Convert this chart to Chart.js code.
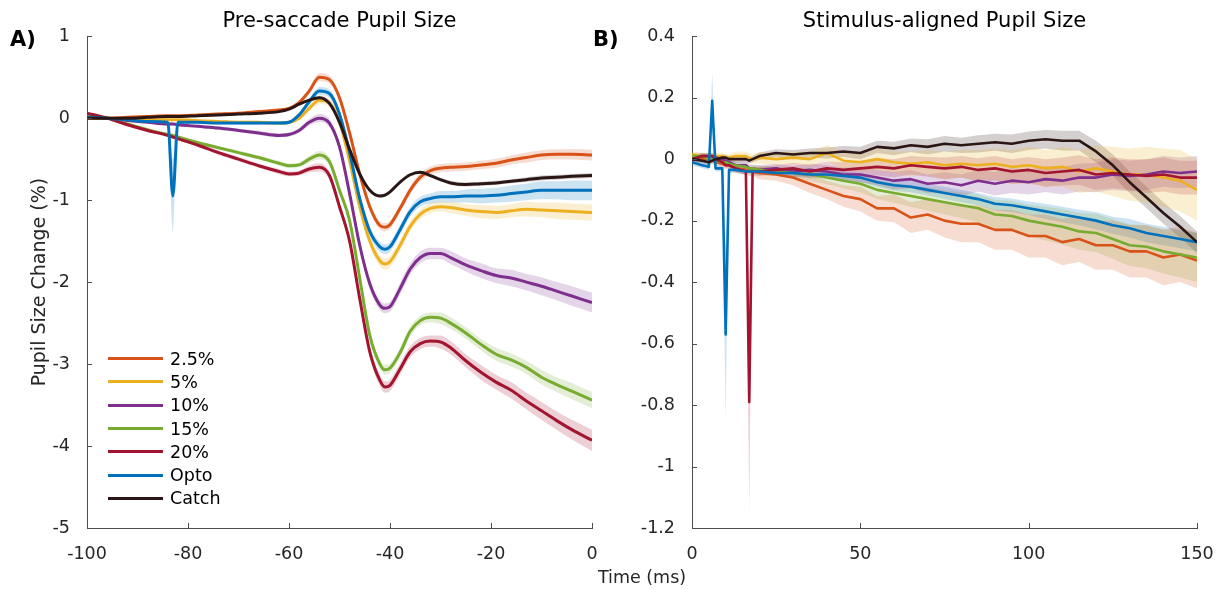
<!DOCTYPE html>
<html lang="en">
<head>
    <meta charset="UTF-8">
    <title>Pupil Size</title>
    <script src="https://cdn.jsdelivr.net/npm/chart.js"></script>
    <style>
        body {
            margin: 0;
            background: #fff;
            font-family: 'DejaVu Sans', sans-serif;
            color: #262626;
        }

        #page {
            position: relative;
            width: 1223px;
            height: 589px;
            overflow: hidden;
        }

        .panel {
            position: absolute;
            top: 0;
            height: 589px;
        }

        #panelA { left: 0; width: 612px; }
        #panelB { left: 612px; width: 611px; }

        .tag {
            position: absolute;
            top: 27px;
            font-weight: bold;
            font-size: 21px;
            line-height: 24px;
            color: #000;
        }

        #xlabel {
            position: absolute;
            left: 642px;
            top: 567px;
            transform: translateX(-50%);
            font-size: 17.5px;
            line-height: 21px;
        }

        #legendA {
            position: absolute;
            left: 108px;
            top: 347px;
            font-size: 17.5px;
            color: #000;
        }

        .row {
            display: flex;
            align-items: center;
            height: 23.3px;
        }

        .swatch {
            width: 55px;
            height: 3px;
            margin-right: 7px;
        }
    </style>
</head>
<body>

<div id="page">
    <div class="panel" id="panelA"><canvas id="chartA"></canvas></div>
    <div class="panel" id="panelB"><canvas id="chartB"></canvas></div>
    <div class="tag" style="left:10px">A)</div>
    <div class="tag" style="left:593px">B)</div>
    <div id="xlabel">Time (ms)</div>
    <div id="legendA"></div>
</div>

<script>
    const seriesNames = ['2.5%', '5%', '10%', '15%', '20%', 'Opto', 'Catch'];
    const seriesColors = ['#D95319', '#EDB120', '#7E2F8E', '#77AC30', '#A2142F', '#0072BD', '#2B1616'];

    // ---- A) pre-saccade, time relative to saccade (ms)
    const timeA = [-100, -96, -92, -88,
                   -84, -83, -82,
                   -78, -74, -70, -66, -62,
                   -60, -58, -56, -54, -52, -50, -48, -46, -44, -42,
                   -41, -40,
                   -38, -36, -34, -32, -30, -28,
                   -25, -22, -19, -16, -13, -10, -7, -4, 0];

    const pre25 = [0.0, 0.0, 0.01, 0.02,
                   0.03, 0.03, 0.03,
                   0.04, 0.05, 0.06, 0.08, 0.1,
                   0.12, 0.19, 0.33, 0.5, 0.47, 0.25, -0.18, -0.68, -1.08, -1.31,
                   -1.33, -1.3,
                   -1.1, -0.88, -0.72, -0.64, -0.61, -0.6,
                   -0.59, -0.57, -0.55, -0.51, -0.48, -0.45, -0.44, -0.44, -0.45];
    const pre5 = [0.0, 0.0, -0.01, -0.02,
                  -0.02, -0.02, -0.02,
                  -0.03, -0.04, -0.05, -0.05, -0.06,
                  -0.05, 0.0, 0.12, 0.22, 0.19, -0.05, -0.52, -1.08, -1.5, -1.74,
                  -1.78, -1.75,
                  -1.55, -1.32, -1.17, -1.1, -1.08, -1.09,
                  -1.12, -1.14, -1.15, -1.13, -1.11, -1.12, -1.13, -1.14, -1.15];
    const pre10 = [0.03, 0.0, -0.03, -0.05,
                   -0.07, -0.07, -0.08,
                   -0.1, -0.12, -0.15, -0.18, -0.21,
                   -0.2, -0.15, -0.05, 0.0, -0.06, -0.35, -0.92, -1.55, -2.02, -2.28,
                   -2.32, -2.3,
                   -2.08, -1.84, -1.7, -1.65, -1.65, -1.7,
                   -1.79, -1.86, -1.92, -1.95, -2.0, -2.05, -2.11, -2.17, -2.25];
    const pre15 = [0.04, 0.0, -0.07, -0.14,
                   -0.2, -0.21, -0.23,
                   -0.3, -0.36, -0.42, -0.48, -0.55,
                   -0.58, -0.57, -0.5, -0.45, -0.53, -0.88, -1.25, -1.95, -2.65, -3.0,
                   -3.07, -3.05,
                   -2.86, -2.6, -2.47, -2.43, -2.44, -2.5,
                   -2.62, -2.76, -2.88, -2.95, -3.04, -3.16, -3.25, -3.33, -3.44];
    const pre20 = [0.06, 0.0, -0.08, -0.15,
                   -0.21, -0.23, -0.25,
                   -0.33, -0.42, -0.5, -0.58, -0.65,
                   -0.68, -0.67, -0.62, -0.6, -0.7, -1.08, -1.5, -2.2, -2.85, -3.2,
                   -3.28, -3.26,
                   -3.06, -2.85, -2.75, -2.72, -2.73, -2.8,
                   -2.96, -3.1, -3.22, -3.32, -3.45, -3.57, -3.69, -3.8, -3.93];
    const preOpto = [0.01, 0.0, -0.02, -0.04,
                     -0.05, -0.95, -0.05,
                     -0.05, -0.06, -0.06, -0.06, -0.06,
                     -0.05, 0.04, 0.2, 0.33, 0.3, 0.05, -0.42, -0.98, -1.38, -1.57,
                     -1.6, -1.57,
                     -1.36, -1.14, -1.02, -0.98, -0.96, -0.96,
                     -0.95, -0.95, -0.94, -0.92, -0.9, -0.88, -0.88, -0.88, -0.88];
    const preCatch = [0.0, 0.0, 0.0, 0.01,
                      0.02, 0.02, 0.02,
                      0.03, 0.04, 0.05, 0.06, 0.08,
                      0.11, 0.17, 0.22, 0.25, 0.18, -0.05, -0.38, -0.68, -0.88, -0.95,
                      -0.94, -0.9,
                      -0.78, -0.69, -0.66, -0.7, -0.75, -0.79,
                      -0.81, -0.8, -0.79, -0.77, -0.75, -0.73, -0.72, -0.71, -0.7];

    const semPre25 = [0.01, 0.01, 0.01, 0.015,
                      0.015, 0.015, 0.015,
                      0.015, 0.02, 0.02, 0.02, 0.02,
                      0.02, 0.03, 0.04, 0.05, 0.05, 0.05, 0.05, 0.05, 0.05, 0.05,
                      0.05, 0.05,
                      0.05, 0.05, 0.05, 0.05, 0.05, 0.05,
                      0.05, 0.05, 0.055, 0.055, 0.06, 0.06, 0.06, 0.065, 0.065];
    const semPre5 = [0.01, 0.01, 0.01, 0.015,
                     0.015, 0.015, 0.015,
                     0.015, 0.02, 0.02, 0.02, 0.02,
                     0.02, 0.03, 0.04, 0.05, 0.05, 0.05, 0.05, 0.06, 0.06, 0.07,
                     0.07, 0.07,
                     0.07, 0.06, 0.06, 0.06, 0.06, 0.07,
                     0.07, 0.08, 0.08, 0.08, 0.09, 0.09, 0.1, 0.1, 0.1];
    const semPre10 = [0.01, 0.01, 0.015, 0.015,
                      0.02, 0.02, 0.02,
                      0.02, 0.02, 0.02, 0.025, 0.025,
                      0.025, 0.03, 0.04, 0.05, 0.05, 0.05, 0.05, 0.06, 0.06, 0.06,
                      0.06, 0.06,
                      0.07, 0.07, 0.07, 0.07, 0.07, 0.08,
                      0.08, 0.09, 0.09, 0.1, 0.1, 0.11, 0.11, 0.12, 0.12];
    const semPre15 = [0.01, 0.01, 0.015, 0.015,
                      0.02, 0.02, 0.02,
                      0.02, 0.02, 0.025, 0.025, 0.03,
                      0.03, 0.03, 0.04, 0.05, 0.05, 0.05, 0.05, 0.06, 0.06, 0.06,
                      0.06, 0.06,
                      0.06, 0.06, 0.06, 0.06, 0.07, 0.07,
                      0.07, 0.07, 0.08, 0.08, 0.08, 0.09, 0.09, 0.1, 0.1];
    const semPre20 = [0.01, 0.01, 0.015, 0.015,
                      0.02, 0.02, 0.02,
                      0.02, 0.025, 0.025, 0.025, 0.03,
                      0.03, 0.03, 0.04, 0.05, 0.05, 0.05, 0.06, 0.06, 0.07, 0.07,
                      0.07, 0.07,
                      0.07, 0.07, 0.07, 0.07, 0.08, 0.08,
                      0.08, 0.09, 0.09, 0.1, 0.1, 0.11, 0.11, 0.12, 0.13];
    const semPreOpto = [0.01, 0.01, 0.01, 0.015,
                        0.015, 0.45, 0.015,
                        0.015, 0.02, 0.02, 0.02, 0.02,
                        0.02, 0.03, 0.04, 0.05, 0.05, 0.05, 0.05, 0.05, 0.06, 0.06,
                        0.06, 0.06,
                        0.06, 0.06, 0.06, 0.06, 0.07, 0.07,
                        0.08, 0.09, 0.09, 0.1, 0.1, 0.11, 0.11, 0.12, 0.12];
    const semPreCatch = [0.005, 0.005, 0.005, 0.005,
                         0.008, 0.008, 0.008,
                         0.008, 0.01, 0.01, 0.01, 0.01,
                         0.01, 0.015, 0.015, 0.02, 0.02, 0.02, 0.02, 0.02, 0.02, 0.02,
                         0.02, 0.02,
                         0.02, 0.02, 0.02, 0.02, 0.02, 0.025,
                         0.025, 0.025, 0.025, 0.025, 0.03, 0.03, 0.03, 0.03, 0.03];

    // ---- B) stimulus-aligned, time from stimulus onset (ms)
    const timeB = [0, 3, 5, 6, 7, 9, 10, 11, 13, 16, 17, 18, 20,
                   25, 30, 35, 40, 45, 50, 55, 60, 65, 70, 75, 80, 85,
                   90, 95, 100, 105, 110, 115, 120, 125, 130, 135, 140, 145, 150];

    const stim25 = [0.01, 0.0, 0.0, -0.005, -0.01, -0.015, -0.02, -0.02, -0.03, -0.035, -0.04, -0.04, -0.045,
                    -0.05, -0.06, -0.08, -0.1, -0.12, -0.13, -0.16, -0.16, -0.19, -0.18, -0.2, -0.21, -0.21,
                    -0.23, -0.23, -0.25, -0.25, -0.27, -0.26, -0.28, -0.28, -0.3, -0.3, -0.32, -0.31, -0.33];
    const stim5 = [0.015, 0.01, 0.01, 0.01, 0.01, 0.01, 0.005, 0.005, 0.01, 0.01, 0.005, 0.0, 0.005,
                   0.0, 0.005, 0.0, 0.02, -0.005, -0.01, 0.0, -0.01, -0.015, -0.01, -0.02, -0.015, -0.02,
                   -0.015, -0.025, -0.02, -0.03, -0.025, -0.04, -0.03, -0.04, -0.05, -0.05, -0.06, -0.07, -0.1];
    const stim10 = [0.0, 0.01, 0.01, 0.01, 0.005, 0.0, -0.005, -0.01, -0.02, -0.02, -0.03, -0.03, -0.035,
                    -0.03, -0.04, -0.035, -0.04, -0.05, -0.05, -0.06, -0.07, -0.065, -0.08, -0.075, -0.085, -0.07,
                    -0.08, -0.07, -0.075, -0.065, -0.07, -0.06, -0.06, -0.05, -0.055, -0.05, -0.04, -0.045, -0.04];
    const stim15 = [0.01, 0.01, 0.0, 0.0, -0.005, -0.01, -0.01, -0.015, -0.02, -0.025, -0.03, -0.03, -0.035,
                    -0.04, -0.045, -0.05, -0.06, -0.07, -0.08, -0.1, -0.11, -0.12, -0.13, -0.14, -0.15, -0.16,
                    -0.18, -0.185, -0.2, -0.21, -0.22, -0.235, -0.24, -0.26, -0.28, -0.285, -0.3, -0.31, -0.32];
    const stim20 = [0.0, 0.01, 0.01, 0.01, 0.0, -0.01, -0.02, -0.02, -0.03, -0.04, -0.79, -0.04, -0.04,
                    -0.035, -0.03, -0.04, -0.03, -0.035, -0.03, -0.025, -0.03, -0.02, -0.025, -0.03, -0.025, -0.035,
                    -0.03, -0.04, -0.035, -0.045, -0.04, -0.035, -0.05, -0.045, -0.05, -0.055, -0.05, -0.06, -0.06];
    const stimOpto = [-0.01, -0.02, -0.025, 0.19, -0.03, -0.03, -0.57, -0.035, -0.035, -0.04, -0.04, -0.04, -0.04,
                      -0.045, -0.045, -0.05, -0.05, -0.055, -0.06, -0.075, -0.085, -0.09, -0.1, -0.11, -0.12, -0.13,
                      -0.145, -0.15, -0.16, -0.17, -0.18, -0.19, -0.2, -0.215, -0.225, -0.24, -0.25, -0.26, -0.27];
    const stimCatch = [0.0, -0.005, -0.01, -0.005, 0.0, 0.005, 0.005, 0.0, 0.0, 0.0, -0.005, 0.0, 0.01,
                       0.02, 0.015, 0.02, 0.02, 0.025, 0.02, 0.04, 0.035, 0.045, 0.04, 0.05, 0.045, 0.05,
                       0.055, 0.05, 0.06, 0.065, 0.06, 0.06, 0.025, -0.02, -0.075, -0.125, -0.175, -0.22, -0.27];

    const semStim25 = [0.01, 0.01, 0.01, 0.01, 0.01, 0.012, 0.012, 0.012, 0.015, 0.015, 0.015, 0.015, 0.02,
                       0.02, 0.025, 0.03, 0.03, 0.035, 0.04, 0.04, 0.045, 0.05, 0.05, 0.055, 0.06, 0.06,
                       0.065, 0.065, 0.07, 0.07, 0.075, 0.075, 0.08, 0.08, 0.085, 0.085, 0.09, 0.09, 0.09];
    const semStim5 = [0.01, 0.01, 0.01, 0.01, 0.01, 0.012, 0.012, 0.012, 0.015, 0.015, 0.015, 0.015, 0.02,
                      0.02, 0.02, 0.025, 0.025, 0.03, 0.03, 0.035, 0.035, 0.04, 0.04, 0.045, 0.045, 0.05,
                      0.05, 0.055, 0.06, 0.06, 0.065, 0.07, 0.075, 0.08, 0.085, 0.09, 0.095, 0.1, 0.1];
    const semStim10 = [0.01, 0.01, 0.01, 0.01, 0.01, 0.01, 0.01, 0.01, 0.012, 0.012, 0.012, 0.012, 0.015,
                       0.015, 0.018, 0.02, 0.02, 0.022, 0.025, 0.025, 0.028, 0.03, 0.03, 0.032, 0.035, 0.035,
                       0.038, 0.04, 0.04, 0.042, 0.045, 0.045, 0.048, 0.05, 0.05, 0.05, 0.05, 0.05, 0.05];
    const semStim15 = [0.01, 0.01, 0.01, 0.01, 0.01, 0.01, 0.01, 0.01, 0.012, 0.012, 0.012, 0.012, 0.015,
                       0.015, 0.018, 0.02, 0.022, 0.025, 0.028, 0.03, 0.032, 0.035, 0.038, 0.04, 0.042, 0.045,
                       0.048, 0.05, 0.052, 0.055, 0.058, 0.06, 0.062, 0.065, 0.068, 0.07, 0.072, 0.075, 0.08];
    const semStim20 = [0.01, 0.01, 0.01, 0.01, 0.01, 0.01, 0.01, 0.01, 0.012, 0.012, 0.36, 0.012, 0.015,
                       0.015, 0.018, 0.02, 0.022, 0.025, 0.025, 0.028, 0.03, 0.03, 0.032, 0.035, 0.035, 0.038,
                       0.04, 0.04, 0.042, 0.045, 0.045, 0.048, 0.05, 0.05, 0.05, 0.055, 0.055, 0.055, 0.055];
    const semStimOpto = [0.01, 0.01, 0.01, 0.09, 0.01, 0.01, 0.28, 0.01, 0.01, 0.01, 0.01, 0.01, 0.01,
                         0.01, 0.012, 0.012, 0.012, 0.015, 0.015, 0.015, 0.018, 0.018, 0.018, 0.02, 0.02, 0.02,
                         0.022, 0.022, 0.022, 0.025, 0.025, 0.025, 0.028, 0.028, 0.03, 0.03, 0.03, 0.03, 0.03];
    const semStimCatch = [0.01, 0.01, 0.01, 0.01, 0.01, 0.01, 0.01, 0.01, 0.01, 0.01, 0.01, 0.01, 0.012,
                          0.012, 0.015, 0.015, 0.018, 0.018, 0.02, 0.02, 0.022, 0.022, 0.025, 0.025, 0.025, 0.028,
                          0.028, 0.03, 0.03, 0.03, 0.032, 0.032, 0.035, 0.035, 0.035, 0.035, 0.035, 0.035, 0.035];

    const ticksA_x = [-100, -80, -60, -40, -20, 0];
    const ticksA_y = [-5, -4, -3, -2, -1, 0, 1];
    const ticksB_x = [0, 50, 100, 150];
    const ticksB_y = [-1.2, -1, -0.8, -0.6, -0.4, -0.2, 0, 0.2, 0.4];

    Chart.defaults.font.family = "'DejaVu Sans', sans-serif";
    Chart.defaults.color = '#262626';

    function rgba(hex, a) {
        const n = parseInt(hex.slice(1), 16);
        return 'rgba(' + (n >> 16) + ',' + ((n >> 8) & 255) + ',' + (n & 255) + ',' + a + ')';
    }

    function pts(xs, ys) {
        return xs.map((x, i) => ({ x: x, y: ys[i] }));
    }

    // mean line + shaded error band for every condition
    function buildDatasets(times, means, sems, width, smooth) {
        const sets = [];
        means.forEach((m, i) => {
            const curve = smooth ? { cubicInterpolationMode: 'monotone' } : { tension: 0 };
            const base = sets.length;
            sets.push(Object.assign({
                data: pts(times, m.map((v, k) => v + sems[i][k])),
                fill: base + 1,
                backgroundColor: rgba(seriesColors[i], 0.2),
                borderColor: 'rgba(0,0,0,0)',
                borderWidth: 0,
                pointRadius: 0,
                order: 100 + i
            }, curve));
            sets.push(Object.assign({
                data: pts(times, m.map((v, k) => v - sems[i][k])),
                fill: false,
                borderColor: 'rgba(0,0,0,0)',
                borderWidth: 0,
                pointRadius: 0,
                order: 100 + i
            }, curve));
            sets.push(Object.assign({
                label: seriesNames[i],
                data: pts(times, m),
                borderColor: seriesColors[i],
                borderWidth: width,
                fill: false,
                pointRadius: 0,
                borderJoinStyle: 'round',
                order: 20 - i
            }, curve));
        });
        return sets;
    }

    // MATLAB style ticks pointing into the plot
    const inwardTicks = {
        id: 'inwardTicks',
        afterDatasetsDraw(chart) {
            const { ctx, chartArea, scales } = chart;
            ctx.save();
            ctx.strokeStyle = '#4d4d4d';
            ctx.lineWidth = 1;
            ctx.beginPath();
            scales.x.ticks.forEach(t => {
                const px = Math.round(scales.x.getPixelForValue(t.value)) + 0.5;
                ctx.moveTo(px, chartArea.bottom);
                ctx.lineTo(px, chartArea.bottom - 5);
            });
            scales.y.ticks.forEach(t => {
                const py = Math.round(scales.y.getPixelForValue(t.value)) + 0.5;
                ctx.moveTo(chartArea.left, py);
                ctx.lineTo(chartArea.left + 5, py);
            });
            ctx.stroke();
            ctx.restore();
        }
    };

    function fmt(v) {
        return String(+v.toFixed(2));
    }

    function makeChart(id, cfg) {
        return new Chart(document.getElementById(id), {
            type: 'line',
            data: { datasets: buildDatasets(cfg.times, cfg.means, cfg.sems, cfg.width, cfg.smooth) },
            plugins: [inwardTicks],
            options: {
                responsive: true,
                maintainAspectRatio: false,
                animation: false,
                events: [],
                layout: { padding: { left: 0, right: cfg.right, top: 0, bottom: 0 } },
                plugins: {
                    legend: { display: false },
                    tooltip: { enabled: false },
                    title: {
                        display: true,
                        text: cfg.title,
                        fullSize: false,
                        color: '#000',
                        font: { size: 21, weight: 'normal' },
                        padding: { top: 9, bottom: 2 }
                    }
                },
                scales: {
                    x: {
                        type: 'linear',
                        min: cfg.xTicks[0],
                        max: cfg.xTicks[cfg.xTicks.length - 1],
                        afterFit: s => { s.height = 61; },
                        afterBuildTicks: s => { s.ticks = cfg.xTicks.map(v => ({ value: v })); },
                        grid: { display: false },
                        border: { display: true, color: '#4d4d4d', width: 1 },
                        ticks: { padding: 8, font: { size: 17.5 }, callback: fmt, maxRotation: 0 }
                    },
                    y: {
                        type: 'linear',
                        min: cfg.yTicks[0],
                        max: cfg.yTicks[cfg.yTicks.length - 1],
                        afterFit: s => { s.width = cfg.left; },
                        afterBuildTicks: s => { s.ticks = cfg.yTicks.map(v => ({ value: v })); },
                        grid: { display: false },
                        border: { display: true, color: '#4d4d4d', width: 1 },
                        ticks: { padding: 9, font: { size: 17.5 }, callback: fmt },
                        title: {
                            display: cfg.yTitle !== '',
                            text: cfg.yTitle,
                            font: { size: 19 },
                            padding: { top: 29, bottom: 0 }
                        }
                    }
                }
            }
        });
    }

    makeChart('chartA', {
        times: timeA,
        means: [pre25, pre5, pre10, pre15, pre20, preOpto, preCatch],
        sems: [semPre25, semPre5, semPre10, semPre15, semPre20, semPreOpto, semPreCatch],
        width: 3,
        smooth: true,
        title: 'Pre-saccade Pupil Size',
        yTitle: 'Pupil Size Change (%)',
        xTicks: ticksA_x,
        yTicks: ticksA_y,
        left: 87,
        right: 20
    });

    makeChart('chartB', {
        times: timeB,
        means: [stim25, stim5, stim10, stim15, stim20, stimOpto, stimCatch],
        sems: [semStim25, semStim5, semStim10, semStim15, semStim20, semStimOpto, semStimCatch],
        width: 2.6,
        smooth: false,
        title: 'Stimulus-aligned Pupil Size',
        yTitle: '',
        xTicks: ticksB_x,
        yTicks: ticksB_y,
        left: 80,
        right: 26
    });

    // legend inside panel A
    const legend = document.getElementById('legendA');
    seriesNames.forEach((name, i) => {
        const row = document.createElement('div');
        row.className = 'row';
        row.innerHTML = '<span class="swatch" style="background:' + seriesColors[i] + '"></span>' + name;
        legend.appendChild(row);
    });
</script>

</body>
</html>
